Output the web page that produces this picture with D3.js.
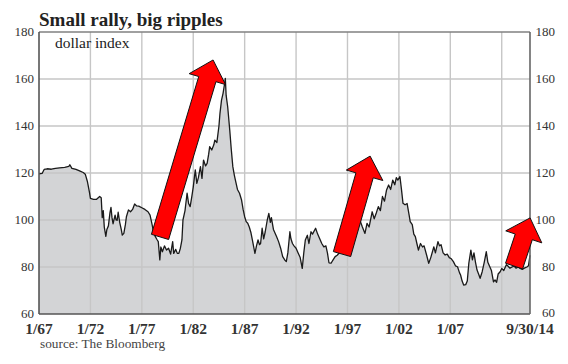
<!DOCTYPE html>
<html><head><meta charset="utf-8">
<script src="https://cdn.jsdelivr.net/npm/d3@7"></script>
<style>body{margin:0;background:#fff}svg{display:block}</style>
</head><body>
<script>
// ---- data (decimal year, dollar index) ----
const years = [1967.0,1967.3,1967.5,1967.8,1968.2,1968.6,1969.0,1969.5,1969.9,1970.0,1970.2,1970.6,1971.0,1971.3,1971.5,1971.7,1971.9,1972.0,1972.3,1972.6,1972.9,1973.05,1973.15,1973.25,1973.35,1973.5,1973.6,1973.75,1973.9,1974.0,1974.1,1974.2,1974.4,1974.5,1974.6,1974.7,1974.85,1975.0,1975.1,1975.25,1975.4,1975.5,1975.7,1975.9,1976.1,1976.3,1976.5,1976.7,1977.0,1977.3,1977.6,1977.8,1978.0,1978.1,1978.3,1978.5,1978.6,1978.75,1978.85,1979.0,1979.2,1979.4,1979.6,1979.8,1980.0,1980.1,1980.3,1980.45,1980.6,1980.75,1980.9,1981.0,1981.2,1981.4,1981.55,1981.7,1981.85,1982.0,1982.2,1982.35,1982.5,1982.7,1982.85,1983.0,1983.2,1983.35,1983.5,1983.6,1983.8,1984.0,1984.1,1984.3,1984.5,1984.6,1984.75,1984.9,1985.05,1985.12,1985.2,1985.35,1985.55,1985.7,1985.85,1986.0,1986.1,1986.3,1986.5,1986.7,1986.85,1987.0,1987.15,1987.3,1987.45,1987.6,1987.75,1988.0,1988.15,1988.3,1988.45,1988.55,1988.7,1988.85,1989.0,1989.2,1989.35,1989.5,1989.6,1989.8,1989.95,1990.1,1990.3,1990.5,1990.7,1990.9,1991.05,1991.2,1991.4,1991.5,1991.65,1991.8,1992.0,1992.2,1992.4,1992.6,1992.75,1992.9,1993.1,1993.25,1993.45,1993.6,1993.9,1994.1,1994.3,1994.5,1994.7,1994.9,1995.05,1995.2,1995.4,1995.6,1995.8,1996.0,1996.3,1996.6,1996.9,1997.2,1997.5,1997.8,1998.0,1998.2,1998.45,1998.7,1998.9,1999.1,1999.4,1999.6,1999.8,2000.0,2000.2,2000.4,2000.6,2000.8,2001.0,2001.2,2001.4,2001.6,2001.75,2001.9,2002.1,2002.25,2002.4,2002.6,2002.8,2003.0,2003.1,2003.3,2003.45,2003.6,2003.75,2003.9,2004.1,2004.3,2004.45,2004.7,2004.9,2005.1,2005.4,2005.55,2005.8,2005.95,2006.1,2006.3,2006.5,2006.7,2006.9,2007.1,2007.3,2007.5,2007.7,2007.9,2008.0,2008.15,2008.3,2008.5,2008.65,2008.8,2009.0,2009.15,2009.3,2009.45,2009.6,2009.75,2009.9,2010.1,2010.3,2010.5,2010.65,2010.85,2011.0,2011.2,2011.35,2011.5,2011.65,2011.85,2012.0,2012.2,2012.45,2012.6,2012.8,2013.0,2013.2,2013.4,2013.6,2013.8,2014.0,2014.2,2014.45,2014.6,2014.75];
const values = [119.6,119.8,121.5,121.8,121.6,122.0,122.2,122.4,122.8,123.5,122.0,121.5,120.8,120.2,119.5,116.5,112,109.2,108.8,108.8,110.0,109.5,101,104,97,93,96,97.5,103,105.4,101,98.4,102.1,100,99.9,103.3,99,96,93.6,94.3,98,101.4,104.3,103.5,104.5,106.8,106,105.9,105.2,104.5,103.5,102.1,98,95.7,93,91.5,90.8,83,88.5,86.5,89,87.2,88,85.5,90.8,85.8,87.5,85.8,85.8,88,91.5,100,104,111.4,107,105.7,109.6,114,121.3,115.6,118,122.7,117.7,125.5,123,124.1,128,131.2,129.8,132,134,133,140,145.4,151,153.9,158,160.3,153,148.2,138.3,130,122.7,119,117,113,111.4,108.5,104.5,101.4,99.3,98.6,97,94.8,91.5,85.8,89,91.5,89.5,90,96.5,92,95,100,102.8,99,101,96,94.5,93,90.8,88,84.4,83,82.3,86,95,92,90,89,88,86,84,79.4,86,91.5,93.5,90,95,94,96.5,94,92,90,88.6,89,86,81.8,81.6,83,84.4,85,86.5,88,89.5,93,96,98,99,100,97,94.3,98.6,97,103.5,100.5,103,105.7,104,110,108,112.8,114.9,113,117,115,118,117,118.5,113,107.1,106.5,107,102,99.3,98,94,92.9,90,87.2,90,88.5,89,85,81.6,84,88.6,86,90.8,89,89.5,86,85.1,85.5,84,83.5,82.3,80.5,80.1,77.5,76.6,74,72.3,72.5,74,81.6,87.2,83,86,82,78.7,77,75.2,78,82,86.5,82,80,78.5,73.7,74.5,73.5,77,78,79.4,78.5,81,80.4,79.5,80,80.4,79.5,80,79.4,79,79.5,80,80.5,85];

const xTickYears = [1967,1972,1977,1982,1987,1992,1997,2002,2007,2014.75];
const xTickLabels = ["1/67","1/72","1/77","1/82","1/87","1/92","1/97","1/02","1/07","9/30/14"];
const xGridYears = [1972,1977,1982,1987,1992,1997,2002,2007,2012];
const yTicks = [60,80,100,120,140,160,180];

// annotation arrows: tail and tip in data coordinates (year, index)
const arrowTailYear = [1978.77,1996.47,2013.2];
const arrowTailVal  = [92.8,85.5,80.4];
const arrowTipYear  = [1983.93,1999.2,2014.76];
const arrowTipVal   = [168.1,127.2,100.9];

const title = "Small rally, big ripples";
const subtitle = "dollar index";
const source = "source: The Bloomberg";

// ---- chart ----
const W = 568, H = 364;
const m = {l:39, r:38, t:32, b:50};
const svg = d3.select("body").append("svg").attr("width",W).attr("height",H);
const x = d3.scaleLinear().domain([1967,2014.75]).range([m.l, W-m.r]);
const y = d3.scaleLinear().domain([60,180]).range([H-m.b, m.t]);
const data = years.map((t,i)=>({t, v:values[i]}));
const serif = "'Liberation Serif','Times New Roman',serif";

svg.append("path").datum(data)
  .attr("d", d3.area().x(d=>x(d.t)).y0(y(60)).y1(d=>y(d.v)))
  .attr("fill","#d3d4d6");

// grid
svg.append("g").selectAll("line").data(yTicks.filter(v=>v>60&&v<180)).join("line")
  .attr("x1",x(1967)).attr("x2",x(2014.75)).attr("y1",d=>y(d)).attr("y2",d=>y(d))
  .attr("stroke","#c6c6c6").attr("stroke-width",1.4);
svg.append("g").selectAll("line").data(xGridYears).join("line")
  .attr("x1",d=>x(d)).attr("x2",d=>x(d)).attr("y1",y(60)).attr("y2",y(180))
  .attr("stroke","#c6c6c6").attr("stroke-width",1.4);

svg.append("path").datum(data)
  .attr("d", d3.line().x(d=>x(d.t)).y(d=>y(d.v)))
  .attr("fill","none").attr("stroke","#1a1a1a").attr("stroke-width",1.3).attr("stroke-linejoin","round");

// frame
svg.append("line").attr("x1",x(1967)).attr("x2",x(2014.75)).attr("y1",y(180)).attr("y2",y(180)).attr("stroke","#808080").attr("stroke-width",1.5);
svg.append("line").attr("x1",x(1967)).attr("x2",x(2014.75)).attr("y1",y(60)).attr("y2",y(60)).attr("stroke","#555").attr("stroke-width",1.6);
svg.append("line").attr("x1",x(1967)).attr("x2",x(1967)).attr("y1",y(60)).attr("y2",y(180)).attr("stroke","#555").attr("stroke-width",1.6);
svg.append("line").attr("x1",x(2014.75)).attr("x2",x(2014.75)).attr("y1",y(60)).attr("y2",y(180)).attr("stroke","#666").attr("stroke-width",1.6);

// y labels
const yl = svg.append("g").attr("font-family",serif).attr("font-size",13).attr("fill","#333");
yl.selectAll("text.l").data(yTicks).join("text").attr("class","l")
  .attr("x",m.l-5).attr("y",d=>y(d)).attr("dy","0.3em").attr("text-anchor","end").text(d=>d);
yl.selectAll("text.r").data(yTicks).join("text").attr("class","r")
  .attr("x",W-13).attr("y",d=>y(d)).attr("dy",d=>d===60?"0.2em":"0.3em").attr("text-anchor","end").text(d=>d);

// x labels
svg.append("g").attr("font-family",serif).attr("font-size",15.5).attr("font-weight","bold").attr("fill","#333")
  .selectAll("text").data(xTickYears).join("text")
  .attr("x",d=>x(d)).attr("y",y(60)+20).attr("text-anchor","middle").text((d,i)=>xTickLabels[i]);

// arrows
function arrowPath(x0,y0,x1,y1){
  const sw=18, hw=38, hl=20;
  const dx=x1-x0, dy=y1-y0, L=Math.hypot(dx,dy), ux=dx/L, uy=dy/L, nx=-uy, ny=ux;
  const bx=x1-ux*hl, by=y1-uy*hl;
  const p=[[x0+nx*sw/2,y0+ny*sw/2],[bx+nx*sw/2,by+ny*sw/2],[bx+nx*hw/2,by+ny*hw/2],[x1,y1],
           [bx-nx*hw/2,by-ny*hw/2],[bx-nx*sw/2,by-ny*sw/2],[x0-nx*sw/2,y0-ny*sw/2]];
  return "M"+p.map(q=>q.join(",")).join("L")+"Z";
}
svg.append("g").selectAll("path").data(arrowTailYear).join("path")
  .attr("d",(d,i)=>arrowPath(x(arrowTailYear[i]),y(arrowTailVal[i]),x(arrowTipYear[i]),y(arrowTipVal[i])))
  .attr("fill","#ff0000").attr("stroke","#111").attr("stroke-width",1).attr("stroke-linejoin","miter");

// texts
svg.append("text").attr("x",m.l).attr("y",25.5).attr("font-family",serif).attr("font-weight","bold")
  .attr("font-size",19).attr("fill","#222").text(title);
svg.append("text").attr("x",55).attr("y",47.5).attr("font-family",serif)
  .attr("font-size",15.5).attr("fill","#222").text(subtitle);
svg.append("text").attr("x",40).attr("y",348).attr("font-family",serif)
  .attr("font-size",13.3).attr("fill","#444").text(source);
</script>
</body></html>
